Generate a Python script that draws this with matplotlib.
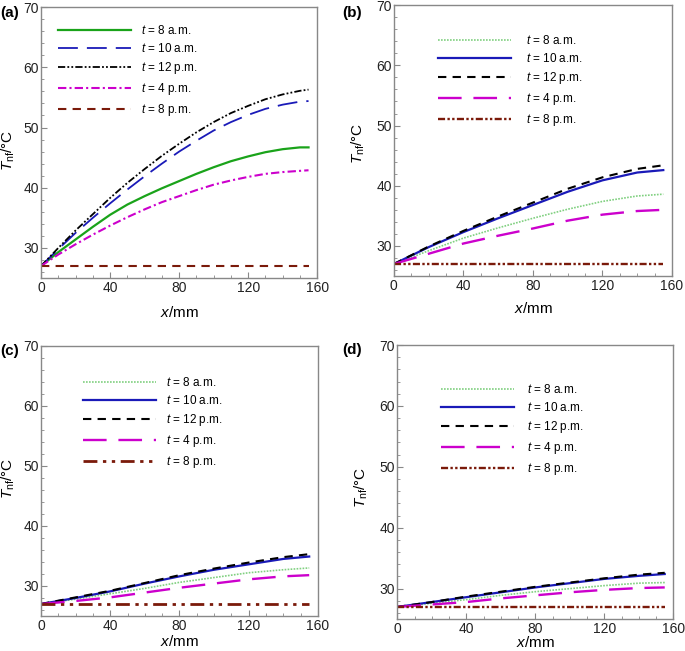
import matplotlib
matplotlib.use("Agg")
import matplotlib.pyplot as plt
from matplotlib.ticker import MultipleLocator

plt.rcParams['font.family'] = ['Liberation Sans', 'DejaVu Sans']
plt.rcParams['mathtext.fontset'] = 'custom'
plt.rcParams['mathtext.rm'] = 'Liberation Sans'
plt.rcParams['mathtext.it'] = 'Liberation Sans:italic'

labels = [r'$t$ = 8 a.m.', r'$t$ = 10 a.m.', r'$t$ = 12 p.m.', r'$t$ = 4 p.m.', r'$t$ = 8 p.m.']

# panel (a): finer x sampling since curves bend a lot
x_a = [0, 10, 20, 30, 40, 50, 60, 70, 80, 90, 100, 110, 120, 130, 140, 150, 155]
a_8am = [27, 29.3, 31.4, 33.5, 35.5, 37.2, 38.6, 39.9, 41.1, 42.3, 43.4, 44.4, 45.2, 45.9, 46.4, 46.7, 46.7]
a_10am = [27, 29.8, 32.5, 35.0, 37.4, 39.7, 41.9, 44.0, 46.0, 47.8, 49.5, 50.9, 52.1, 53.1, 53.8, 54.3, 54.4]
a_12pm = [27, 30.0, 32.9, 35.6, 38.3, 40.8, 43.1, 45.3, 47.3, 49.2, 50.9, 52.4, 53.6, 54.7, 55.5, 56.1, 56.3]
a_4pm = [27, 28.9, 30.6, 32.2, 33.7, 35.1, 36.4, 37.6, 38.6, 39.6, 40.5, 41.2, 41.8, 42.3, 42.6, 42.8, 42.9]
a_8pm = [27, 27, 27, 27, 27, 27, 27, 27, 27, 27, 27, 27, 27, 27, 27, 27, 27]

# panels (b)-(d)
x_b = [0, 20, 40, 60, 80, 100, 120, 140, 155]
b_8am = [27, 29.2, 31.3, 33.0, 34.6, 36.1, 37.4, 38.3, 38.6]
b_10am = [27, 29.8, 32.3, 34.6, 36.8, 39.0, 40.9, 42.2, 42.6]
b_12pm = [27, 29.9, 32.5, 34.9, 37.2, 39.5, 41.4, 42.8, 43.4]
b_4pm = [27, 28.7, 30.4, 31.7, 32.9, 34.2, 35.2, 35.8, 36.0]
b_8pm = [27, 27, 27, 27, 27, 27, 27, 27, 27]

c_8am = [27, 27.8, 28.7, 29.6, 30.6, 31.4, 32.2, 32.7, 33.0]
c_10am = [27, 28.0, 29.1, 30.4, 31.6, 32.7, 33.6, 34.5, 34.9]
c_12pm = [27, 28.1, 29.2, 30.5, 31.8, 32.9, 33.9, 34.8, 35.3]
c_4pm = [27, 27.5, 28.1, 28.9, 29.7, 30.4, 31.1, 31.6, 31.8]
c_8pm = [27, 27, 27, 27, 27, 27, 27, 27, 27]

d_8am = [27, 27.6, 28.2, 28.9, 29.5, 30.0, 30.5, 30.9, 31.0]
d_10am = [27, 27.8, 28.6, 29.4, 30.2, 30.9, 31.6, 32.1, 32.4]
d_12pm = [27, 27.8, 28.7, 29.5, 30.3, 31.0, 31.7, 32.3, 32.6]
d_4pm = [27, 27.4, 27.8, 28.4, 28.9, 29.4, 29.8, 30.1, 30.2]
d_8pm = [27, 27, 27, 27, 27, 27, 27, 27, 27]

green = '#1aa31a'
lgreen = '#80d080'
blue = '#1a1ab8'
magenta = '#cc00cc'
brown = '#7a1a0a'

fig = plt.figure(figsize=(6.85, 6.51), dpi=100)


def style_axis(ax, ylab_xy, xlab_xy):
    ax.set_xlim(0, 160)
    ax.set_ylim(25, 70)
    ax.xaxis.set_major_locator(MultipleLocator(40))
    ax.xaxis.set_minor_locator(MultipleLocator(10))
    ax.yaxis.set_major_locator(MultipleLocator(10))
    ax.yaxis.set_minor_locator(MultipleLocator(2))
    ax.tick_params(which='both', direction='in', top=False, right=False,
                   colors='#888888', labelcolor='#222222', labelsize=10)
    ax.tick_params(which='major', length=4)
    ax.tick_params(which='minor', length=2)
    ax.tick_params(axis='x', which='major', pad=2)
    ax.tick_params(axis='y', which='major', pad=1.5)
    for s in ax.spines.values():
        s.set_color('#888888')
        s.set_linewidth(1.0)
    ax.set_ylabel(r'$T_{\mathrm{nf}}$/°C', fontsize=11)
    ax.set_xlabel(r'$x$/mm', fontsize=11)
    ax.yaxis.set_label_coords(*ylab_xy)
    ax.xaxis.set_label_coords(*xlab_xy)


def add_legend(ax, anchor, textpad):
    ax.legend(loc='upper left', bbox_to_anchor=anchor, frameon=False, fontsize=8.5,
              handlelength=6.2, handletextpad=textpad, labelspacing=0.42,
              borderpad=0, borderaxespad=0)


# (a)
ax = fig.add_axes([0.060, 0.573, 0.403, 0.416])
ax.plot(x_a, a_8am, color=green, lw=1.6, label=labels[0])
ax.plot(x_a, a_10am, color=blue, lw=1.3, dashes=(11, 5), label=labels[1])
ax.plot(x_a, a_12pm, color='black', lw=1.3, dashes=(4, 1.2, 1, 1.2, 1, 1.2), label=labels[2])
ax.plot(x_a, a_4pm, color=magenta, lw=1.5, dashes=(4, 1.5, 1, 1.5), label=labels[3])
ax.plot(x_a, a_8pm, color=brown, lw=1.5, dashes=(4, 3), label=labels[4])
style_axis(ax, (-0.087, 0.47), (0.5, -0.10))
add_legend(ax, (0.062, 0.938), 0.85)

panels = [
    ([0.575, 0.576, 0.406, 0.416], [b_8am, b_10am, b_12pm, b_4pm, b_8pm],
     (-0.097, 0.49), (0.5, -0.092), (0.158, 0.893), 1.3),
    ([0.060, 0.0538, 0.404, 0.415], [c_8am, c_10am, c_12pm, c_4pm, c_8pm],
     (-0.087, 0.51), (0.5, -0.068), (0.152, 0.888), 0.8),
    ([0.580, 0.049, 0.403, 0.421], [d_8am, d_10am, d_12pm, d_4pm, d_8pm],
     (-0.098, 0.48), (0.5, -0.058), (0.159, 0.861), 1.1),
]

for i, (rect, series, ylab, xlab, anchor, tpad) in enumerate(panels):
    ax = fig.add_axes(rect)
    ax.plot(x_b, series[0], color=lgreen, lw=1.2, dashes=(1, 0.8), label=labels[0])
    ax.plot(x_b, series[1], color=blue, lw=1.6, label=labels[1])
    ax.plot(x_b, series[2], color='black', lw=1.5, dashes=(4, 3), label=labels[2])
    ax.plot(x_b, series[3], color=magenta, lw=1.7, dashes=(10, 5), label=labels[3])
    if i == 1:
        ax.plot(x_b, series[4], color=brown, lw=2.0, dashes=(5, 2, 1.2, 2, 1.2, 2), label=labels[4])
    else:
        ax.plot(x_b, series[4], color=brown, lw=1.7, dashes=(3, 1, 1, 1, 1, 1), label=labels[4])
    style_axis(ax, ylab, xlab)
    add_legend(ax, anchor, tpad)

fig.text(0.0, 0.980, '(a)', fontsize=11, fontweight='bold', va='center')
fig.text(0.500, 0.980, '(b)', fontsize=11, fontweight='bold', va='center')
fig.text(0.0, 0.461, '(c)', fontsize=11, fontweight='bold', va='center')
fig.text(0.500, 0.462, '(d)', fontsize=11, fontweight='bold', va='center')

fig.savefig('out.png', dpi=100)
